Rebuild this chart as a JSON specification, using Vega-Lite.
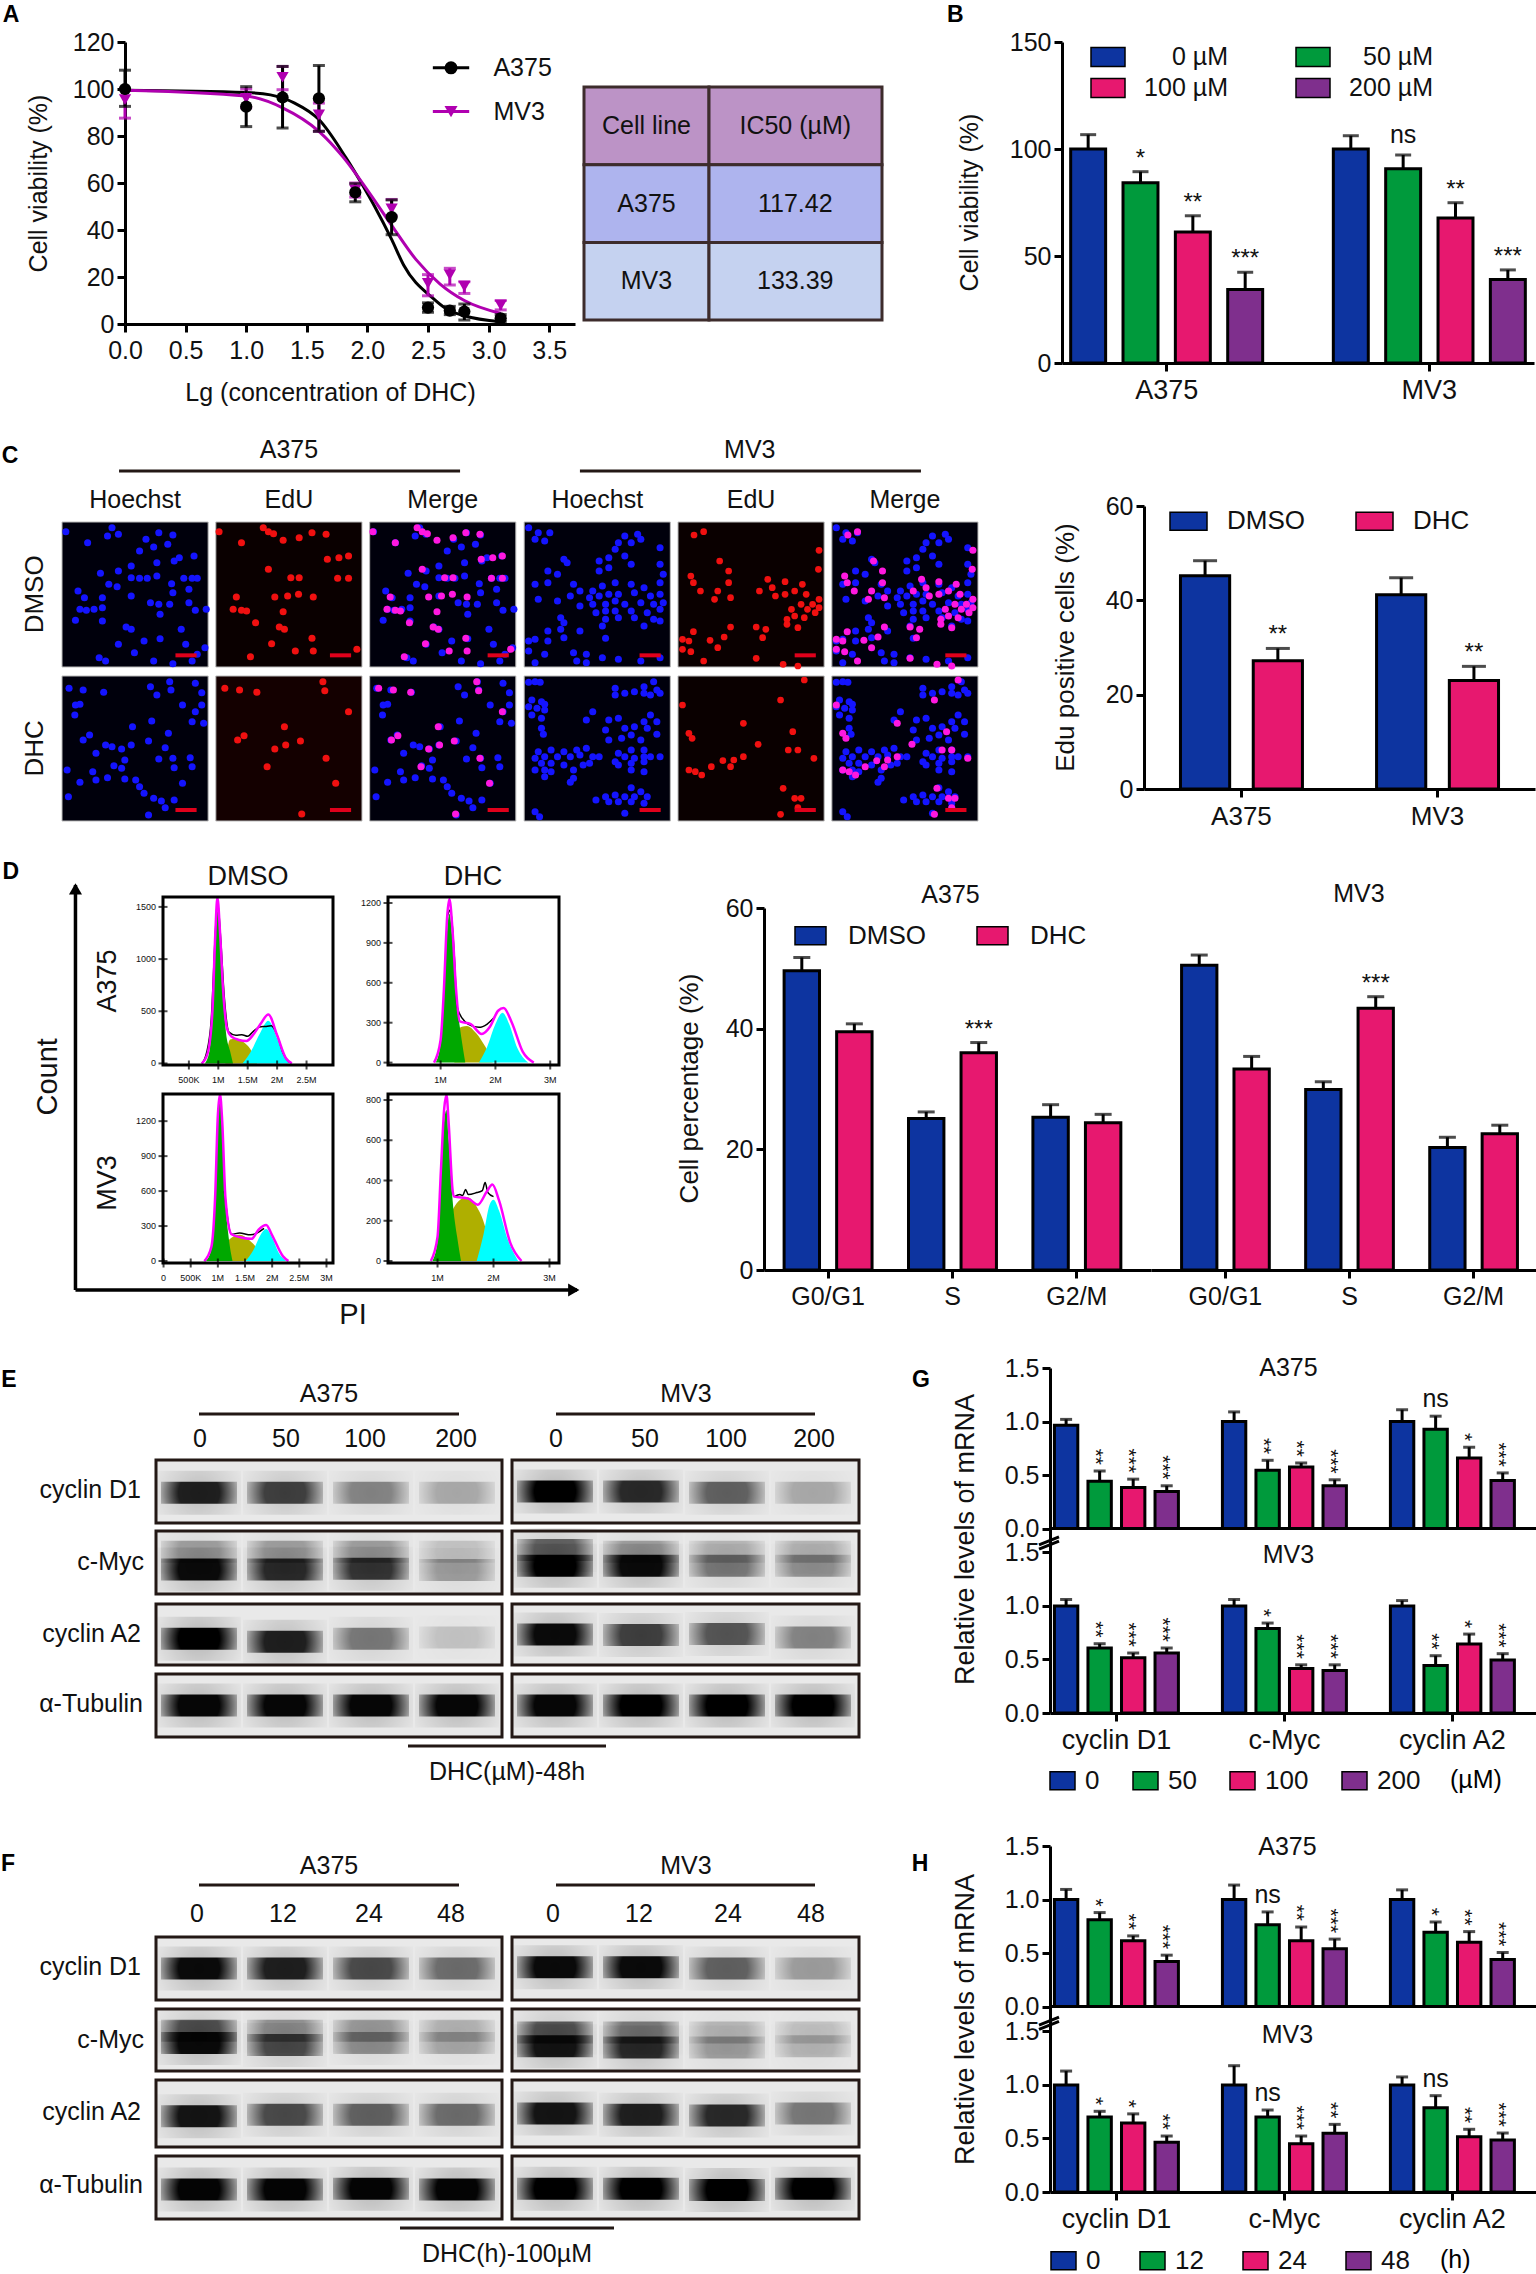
{
"$schema":"https://vega.github.io/schema/vega-lite/v6.json",
"padding":{"left":0,"top":3,"right":0,"bottom":0},"background":"white","spacing":0,
"data":{"values":[{}]},
"resolve":{"scale":{"color":"independent","xOffset":"independent"}},
"config":{"view":{"stroke":null},"font":"Liberation Sans",
"axis":{"domainColor":"#000","domainWidth":3,"tickColor":"#000","tickWidth":3,"tickSize":8,"labelColor":"#111","labelFontSize":25,"titleFontSize":25,"titleFontWeight":"normal","titleColor":"#111","grid":false,"labelPadding":3,"labelFlush":false,"labelOverlap":false,"titleAlign":"center","titleBaseline":"middle"},
"title":{"fontWeight":"normal","fontSize":25,"color":"#111"},
"text":{"color":"#111","fontSize":25},
"legend":{"titleFontWeight":"normal","labelFontSize":25,"labelColor":"#111","symbolOpacity":1,"orient":"none"}},
"datasets":{
"a_curve":[
{"series":"A375","x":0,"y":99.5},{"series":"A375","x":1,"y":98.5},{"series":"A375","x":1.2,"y":97.5},{"series":"A375","x":1.4,"y":94},{"series":"A375","x":1.6,"y":87},{"series":"A375","x":1.82,"y":71},{"series":"A375","x":1.95,"y":60},{"series":"A375","x":2.06,"y":50},{"series":"A375","x":2.2,"y":36},{"series":"A375","x":2.3,"y":25},{"series":"A375","x":2.54,"y":11},{"series":"A375","x":2.65,"y":6.5},{"series":"A375","x":2.8,"y":3.5},{"series":"A375","x":3.1,"y":1},
{"series":"MV3","x":0,"y":99.5},{"series":"MV3","x":1,"y":97},{"series":"MV3","x":1.3,"y":92},{"series":"MV3","x":1.6,"y":82},{"series":"MV3","x":1.8,"y":71},{"series":"MV3","x":2,"y":57},{"series":"MV3","x":2.2,"y":42},{"series":"MV3","x":2.4,"y":27.5},{"series":"MV3","x":2.6,"y":17},{"series":"MV3","x":2.8,"y":10},{"series":"MV3","x":3.1,"y":4.5}],
"a_pts":[
{"series":"MV3","x":0,"y":95.5,"lo":87.6,"hi":100},{"series":"MV3","x":1,"y":96,"lo":92,"hi":100},{"series":"MV3","x":1.3,"y":105,"lo":99.7,"hi":109.6},{"series":"MV3","x":1.6,"y":89,"lo":82,"hi":94},{"series":"MV3","x":1.9,"y":57,"lo":54,"hi":60},{"series":"MV3","x":2.2,"y":49,"lo":46,"hi":53},{"series":"MV3","x":2.5,"y":17.3,"lo":12,"hi":21},{"series":"MV3","x":2.68,"y":20.9,"lo":16.6,"hi":23.7},{"series":"MV3","x":2.8,"y":16,"lo":13,"hi":18},{"series":"MV3","x":3.1,"y":8,"lo":6,"hi":10},
{"series":"A375","x":0,"y":100,"lo":92.6,"hi":108},{"series":"A375","x":1,"y":92.5,"lo":84,"hi":101},{"series":"A375","x":1.3,"y":96.4,"lo":83.4,"hi":109.6},{"series":"A375","x":1.6,"y":96,"lo":82,"hi":110},{"series":"A375","x":1.9,"y":56,"lo":52,"hi":59.7},{"series":"A375","x":2.2,"y":45.5,"lo":38,"hi":52.8},{"series":"A375","x":2.5,"y":7,"lo":5,"hi":9},{"series":"A375","x":2.68,"y":5.7,"lo":4,"hi":7.5},{"series":"A375","x":2.8,"y":5.3,"lo":1.7,"hi":8.5},{"series":"A375","x":3.1,"y":2.4,"lo":1,"hi":4}],
"b":[
{"group":"A375","dose":"0 µM","value":100,"err":106.7,"sig":""},{"group":"A375","dose":"50 µM","value":84.2,"err":89.4,"sig":"*"},{"group":"A375","dose":"100 µM","value":61.2,"err":68.8,"sig":"**"},{"group":"A375","dose":"200 µM","value":34.3,"err":42.4,"sig":"***"},
{"group":"MV3","dose":"0 µM","value":100,"err":106.2,"sig":""},{"group":"MV3","dose":"50 µM","value":90.8,"err":97.2,"sig":"ns"},{"group":"MV3","dose":"100 µM","value":67.7,"err":74.9,"sig":"**"},{"group":"MV3","dose":"200 µM","value":39,"err":43.5,"sig":"***"}],
"c":[
{"group":"A375","dose":"DMSO","value":45.2,"err":48.4,"sig":""},{"group":"A375","dose":"DHC","value":27.2,"err":29.8,"sig":"**"},
{"group":"MV3","dose":"DMSO","value":41.2,"err":44.8,"sig":""},{"group":"MV3","dose":"DHC","value":23,"err":26,"sig":"**"}],
"d_a":[
{"group":"G0/G1","dose":"DMSO","value":49.6,"err":51.8,"sig":""},{"group":"G0/G1","dose":"DHC","value":39.5,"err":40.8,"sig":""},{"group":"S","dose":"DMSO","value":25.1,"err":26.2,"sig":""},{"group":"S","dose":"DHC","value":36,"err":37.7,"sig":"***"},{"group":"G2/M","dose":"DMSO","value":25.3,"err":27.4,"sig":""},{"group":"G2/M","dose":"DHC","value":24.4,"err":25.8,"sig":""}],
"d_m":[
{"group":"G0/G1","dose":"DMSO","value":50.5,"err":52.2,"sig":""},{"group":"G0/G1","dose":"DHC","value":33.3,"err":35.4,"sig":""},{"group":"S","dose":"DMSO","value":29.9,"err":31.2,"sig":""},{"group":"S","dose":"DHC","value":43.4,"err":45.3,"sig":"***"},{"group":"G2/M","dose":"DMSO","value":20.3,"err":22,"sig":""},{"group":"G2/M","dose":"DHC","value":22.6,"err":24,"sig":""}],
"g_a":[
{"group":"cyclin D1","dose":"0","value":0.965,"err":1.02,"sig":""},{"group":"cyclin D1","dose":"50","value":0.443,"err":0.538,"sig":"**"},{"group":"cyclin D1","dose":"100","value":0.384,"err":0.462,"sig":"***"},{"group":"cyclin D1","dose":"200","value":0.346,"err":0.4,"sig":"***"},
{"group":"c-Myc","dose":"0","value":1,"err":1.09,"sig":""},{"group":"c-Myc","dose":"50","value":0.544,"err":0.638,"sig":"**"},{"group":"c-Myc","dose":"100","value":0.575,"err":0.613,"sig":"**"},{"group":"c-Myc","dose":"200","value":0.4,"err":0.456,"sig":"***"},
{"group":"cyclin A2","dose":"0","value":1,"err":1.11,"sig":""},{"group":"cyclin A2","dose":"50","value":0.928,"err":1.05,"sig":"ns"},{"group":"cyclin A2","dose":"100","value":0.66,"err":0.76,"sig":"*"},{"group":"cyclin A2","dose":"200","value":0.45,"err":0.52,"sig":"***"}],
"g_m":[
{"group":"cyclin D1","dose":"0","value":1,"err":1.06,"sig":""},{"group":"cyclin D1","dose":"50","value":0.607,"err":0.647,"sig":"**"},{"group":"cyclin D1","dose":"100","value":0.517,"err":0.56,"sig":"***"},{"group":"cyclin D1","dose":"200","value":0.56,"err":0.607,"sig":"***"},
{"group":"c-Myc","dose":"0","value":1,"err":1.06,"sig":""},{"group":"c-Myc","dose":"50","value":0.79,"err":0.84,"sig":"*"},{"group":"c-Myc","dose":"100","value":0.415,"err":0.45,"sig":"***"},{"group":"c-Myc","dose":"200","value":0.396,"err":0.45,"sig":"***"},
{"group":"cyclin A2","dose":"0","value":1,"err":1.05,"sig":""},{"group":"cyclin A2","dose":"50","value":0.443,"err":0.535,"sig":"**"},{"group":"cyclin A2","dose":"100","value":0.644,"err":0.737,"sig":"*"},{"group":"cyclin A2","dose":"200","value":0.495,"err":0.554,"sig":"***"}],
"h_a":[
{"group":"cyclin D1","dose":"0","value":1,"err":1.094,"sig":""},{"group":"cyclin D1","dose":"12","value":0.81,"err":0.878,"sig":"*"},{"group":"cyclin D1","dose":"24","value":0.614,"err":0.66,"sig":"**"},{"group":"cyclin D1","dose":"48","value":0.42,"err":0.48,"sig":"***"},
{"group":"c-Myc","dose":"0","value":1,"err":1.135,"sig":""},{"group":"c-Myc","dose":"12","value":0.765,"err":0.884,"sig":"ns"},{"group":"c-Myc","dose":"24","value":0.614,"err":0.743,"sig":"**"},{"group":"c-Myc","dose":"48","value":0.54,"err":0.63,"sig":"***"},
{"group":"cyclin A2","dose":"0","value":1,"err":1.09,"sig":""},{"group":"cyclin A2","dose":"12","value":0.693,"err":0.79,"sig":"*"},{"group":"cyclin A2","dose":"24","value":0.6,"err":0.7,"sig":"**"},{"group":"cyclin A2","dose":"48","value":0.44,"err":0.505,"sig":"***"}],
"h_m":[
{"group":"cyclin D1","dose":"0","value":1,"err":1.13,"sig":""},{"group":"cyclin D1","dose":"12","value":0.7,"err":0.754,"sig":"*"},{"group":"cyclin D1","dose":"24","value":0.645,"err":0.73,"sig":"*"},{"group":"cyclin D1","dose":"48","value":0.464,"err":0.523,"sig":"**"},
{"group":"c-Myc","dose":"0","value":1,"err":1.18,"sig":""},{"group":"c-Myc","dose":"12","value":0.7,"err":0.766,"sig":"ns"},{"group":"c-Myc","dose":"24","value":0.452,"err":0.523,"sig":"***"},{"group":"c-Myc","dose":"48","value":0.548,"err":0.632,"sig":"**"},
{"group":"cyclin A2","dose":"0","value":1,"err":1.075,"sig":""},{"group":"cyclin A2","dose":"12","value":0.788,"err":0.9,"sig":"ns"},{"group":"cyclin A2","dose":"24","value":0.517,"err":0.586,"sig":"**"},{"group":"cyclin A2","dose":"48","value":0.486,"err":0.551,"sig":"***"}],
"h1":[{"x":6,"y":29},{"x":40,"y":62},{"x":78,"y":17},{"x":71,"y":42},{"x":88,"y":37},{"x":151,"y":32},{"x":173,"y":39},{"x":131,"y":52},{"x":143,"y":75},{"x":121,"y":87},{"x":165,"y":67},{"x":206,"y":102},{"x":183,"y":107},{"x":148,"y":122},{"x":175,"y":117},{"x":108,"y":132},{"x":60,"y":154},{"x":88,"y":147},{"x":108,"y":167},{"x":121,"y":169},{"x":133,"y":169},{"x":148,"y":162},{"x":171,"y":185},{"x":190,"y":169},{"x":203,"y":169},{"x":211,"y":169},{"x":86,"y":194},{"x":73,"y":187},{"x":25,"y":207},{"x":35,"y":227},{"x":63,"y":227},{"x":108,"y":222},{"x":138,"y":242},{"x":151,"y":247},{"x":173,"y":212},{"x":198,"y":202},{"x":168,"y":247},{"x":198,"y":242},{"x":208,"y":265},{"x":225,"y":262},{"x":28,"y":262},{"x":38,"y":265},{"x":50,"y":262},{"x":63,"y":257},{"x":63,"y":297},{"x":21,"y":295},{"x":100,"y":315},{"x":108,"y":322},{"x":153,"y":277},{"x":186,"y":322},{"x":153,"y":350},{"x":88,"y":367},{"x":58,"y":407},{"x":68,"y":417},{"x":128,"y":357},{"x":193,"y":367},{"x":223,"y":377},{"x":211,"y":397},{"x":113,"y":392},{"x":143,"y":417},{"x":203,"y":417},{"x":173,"y":425}],
"e1":[{"x":5,"y":29},{"x":40,"y":62},{"x":74,"y":17},{"x":82,"y":29},{"x":90,"y":35},{"x":105,"y":55},{"x":130,"y":47},{"x":150,"y":32},{"x":172,"y":37},{"x":174,"y":112},{"x":192,"y":107},{"x":207,"y":102},{"x":82,"y":142},{"x":117,"y":167},{"x":130,"y":167},{"x":190,"y":169},{"x":207,"y":169},{"x":32,"y":225},{"x":92,"y":225},{"x":112,"y":222},{"x":129,"y":217},{"x":152,"y":225},{"x":27,"y":262},{"x":40,"y":265},{"x":48,"y":267},{"x":105,"y":269},{"x":62,"y":302},{"x":99,"y":315},{"x":107,"y":322},{"x":87,"y":365},{"x":150,"y":349},{"x":124,"y":387},{"x":152,"y":387},{"x":54,"y":404},{"x":220,"y":382}],
"h2":[{"x":7,"y":17},{"x":22,"y":32},{"x":40,"y":32},{"x":17,"y":52},{"x":32,"y":57},{"x":157,"y":42},{"x":177,"y":37},{"x":147,"y":62},{"x":167,"y":62},{"x":182,"y":52},{"x":142,"y":82},{"x":157,"y":102},{"x":132,"y":107},{"x":212,"y":77},{"x":62,"y":112},{"x":37,"y":147},{"x":67,"y":122},{"x":117,"y":117},{"x":132,"y":137},{"x":117,"y":147},{"x":212,"y":127},{"x":217,"y":157},{"x":167,"y":127},{"x":52,"y":157},{"x":17,"y":187},{"x":37,"y":182},{"x":77,"y":187},{"x":87,"y":207},{"x":107,"y":207},{"x":122,"y":192},{"x":142,"y":182},{"x":167,"y":187},{"x":187,"y":197},{"x":212,"y":182},{"x":22,"y":232},{"x":52,"y":237},{"x":72,"y":222},{"x":102,"y":227},{"x":117,"y":222},{"x":132,"y":217},{"x":147,"y":217},{"x":172,"y":212},{"x":197,"y":222},{"x":212,"y":217},{"x":87,"y":252},{"x":107,"y":247},{"x":127,"y":247},{"x":142,"y":237},{"x":157,"y":247},{"x":182,"y":242},{"x":202,"y":247},{"x":217,"y":242},{"x":112,"y":272},{"x":127,"y":267},{"x":142,"y":267},{"x":167,"y":267},{"x":192,"y":272},{"x":212,"y":262},{"x":57,"y":287},{"x":127,"y":292},{"x":147,"y":287},{"x":172,"y":287},{"x":202,"y":292},{"x":62,"y":302},{"x":122,"y":312},{"x":187,"y":312},{"x":212,"y":297},{"x":37,"y":327},{"x":57,"y":322},{"x":87,"y":327},{"x":7,"y":357},{"x":17,"y":352},{"x":37,"y":357},{"x":62,"y":347},{"x":127,"y":349},{"x":7,"y":387},{"x":32,"y":397},{"x":77,"y":392},{"x":97,"y":397},{"x":122,"y":407},{"x":147,"y":412},{"x":17,"y":422},{"x":82,"y":417},{"x":182,"y":417},{"x":97,"y":422},{"x":212,"y":407}],
"e2":[{"x":25,"y":39},{"x":40,"y":29},{"x":220,"y":85},{"x":219,"y":142},{"x":65,"y":117},{"x":79,"y":147},{"x":20,"y":162},{"x":79,"y":182},{"x":24,"y":182},{"x":35,"y":207},{"x":62,"y":207},{"x":82,"y":227},{"x":57,"y":232},{"x":140,"y":172},{"x":147,"y":197},{"x":127,"y":207},{"x":167,"y":179},{"x":194,"y":187},{"x":152,"y":222},{"x":167,"y":217},{"x":182,"y":207},{"x":200,"y":217},{"x":220,"y":232},{"x":210,"y":247},{"x":192,"y":247},{"x":177,"y":262},{"x":202,"y":262},{"x":220,"y":257},{"x":182,"y":282},{"x":197,"y":287},{"x":214,"y":272},{"x":170,"y":292},{"x":187,"y":317},{"x":170,"y":307},{"x":24,"y":329},{"x":82,"y":315},{"x":122,"y":315},{"x":137,"y":322},{"x":7,"y":352},{"x":17,"y":357},{"x":72,"y":345},{"x":50,"y":355},{"x":62,"y":377},{"x":7,"y":382},{"x":20,"y":389},{"x":40,"y":417},{"x":122,"y":409},{"x":164,"y":427},{"x":187,"y":432},{"x":132,"y":347}],
"h3":[{"x":11,"y":37},{"x":33,"y":42},{"x":65,"y":49},{"x":21,"y":87},{"x":28,"y":85},{"x":20,"y":117},{"x":138,"y":32},{"x":168,"y":17},{"x":208,"y":22},{"x":148,"y":57},{"x":170,"y":42},{"x":218,"y":50},{"x":188,"y":87},{"x":208,"y":107},{"x":218,"y":87},{"x":203,"y":137},{"x":221,"y":142},{"x":140,"y":135},{"x":110,"y":152},{"x":166,"y":172},{"x":43,"y":177},{"x":33,"y":192},{"x":68,"y":207},{"x":78,"y":212},{"x":93,"y":219},{"x":53,"y":232},{"x":108,"y":207},{"x":135,"y":195},{"x":161,"y":215},{"x":151,"y":249},{"x":173,"y":247},{"x":200,"y":245},{"x":203,"y":272},{"x":175,"y":275},{"x":98,"y":252},{"x":81,"y":269},{"x":93,"y":277},{"x":48,"y":287},{"x":8,"y":282},{"x":53,"y":312},{"x":71,"y":305},{"x":98,"y":309},{"x":115,"y":312},{"x":188,"y":322},{"x":28,"y":319},{"x":10,"y":362},{"x":121,"y":332},{"x":128,"y":352},{"x":143,"y":367},{"x":155,"y":375},{"x":161,"y":395},{"x":175,"y":372},{"x":135,"y":417}],
"e3":[{"x":14,"y":37},{"x":37,"y":42},{"x":64,"y":49},{"x":167,"y":17},{"x":170,"y":44},{"x":207,"y":107},{"x":107,"y":152},{"x":44,"y":179},{"x":34,"y":192},{"x":132,"y":195},{"x":109,"y":207},{"x":92,"y":219},{"x":172,"y":247},{"x":80,"y":272},{"x":187,"y":322},{"x":134,"y":414}],
"h4":[{"x":7,"y":19},{"x":17,"y":17},{"x":25,"y":19},{"x":12,"y":72},{"x":27,"y":77},{"x":32,"y":85},{"x":7,"y":92},{"x":20,"y":97},{"x":32,"y":102},{"x":12,"y":117},{"x":27,"y":127},{"x":27,"y":157},{"x":30,"y":175},{"x":202,"y":17},{"x":187,"y":32},{"x":207,"y":42},{"x":142,"y":37},{"x":157,"y":52},{"x":172,"y":47},{"x":197,"y":57},{"x":142,"y":57},{"x":187,"y":52},{"x":212,"y":52},{"x":107,"y":107},{"x":97,"y":132},{"x":197,"y":117},{"x":132,"y":132},{"x":147,"y":127},{"x":187,"y":137},{"x":207,"y":137},{"x":127,"y":162},{"x":157,"y":157},{"x":172,"y":152},{"x":192,"y":157},{"x":167,"y":177},{"x":152,"y":187},{"x":182,"y":192},{"x":132,"y":192},{"x":207,"y":175},{"x":22,"y":227},{"x":42,"y":222},{"x":62,"y":227},{"x":82,"y":222},{"x":97,"y":217},{"x":17,"y":247},{"x":32,"y":242},{"x":52,"y":242},{"x":72,"y":242},{"x":87,"y":237},{"x":107,"y":242},{"x":117,"y":242},{"x":27,"y":262},{"x":42,"y":262},{"x":62,"y":267},{"x":92,"y":267},{"x":102,"y":262},{"x":17,"y":282},{"x":32,"y":282},{"x":42,"y":287},{"x":77,"y":282},{"x":32,"y":302},{"x":77,"y":307},{"x":72,"y":319},{"x":147,"y":232},{"x":167,"y":222},{"x":187,"y":222},{"x":142,"y":257},{"x":157,"y":242},{"x":172,"y":247},{"x":187,"y":242},{"x":197,"y":242},{"x":212,"y":242},{"x":147,"y":267},{"x":167,"y":262},{"x":187,"y":257},{"x":167,"y":282},{"x":187,"y":287},{"x":167,"y":335},{"x":182,"y":347},{"x":142,"y":357},{"x":127,"y":362},{"x":157,"y":362},{"x":172,"y":362},{"x":192,"y":362},{"x":112,"y":372},{"x":132,"y":377},{"x":147,"y":377},{"x":167,"y":377},{"x":187,"y":382},{"x":17,"y":407},{"x":24,"y":422},{"x":157,"y":412}],
"e4":[{"x":197,"y":12},{"x":160,"y":72},{"x":7,"y":87},{"x":102,"y":142},{"x":17,"y":172},{"x":22,"y":187},{"x":179,"y":167},{"x":125,"y":205},{"x":172,"y":222},{"x":187,"y":222},{"x":212,"y":247},{"x":102,"y":242},{"x":87,"y":252},{"x":70,"y":254},{"x":52,"y":272},{"x":17,"y":282},{"x":27,"y":287},{"x":37,"y":297},{"x":82,"y":272},{"x":164,"y":337},{"x":182,"y":367},{"x":192,"y":367},{"x":187,"y":395},{"x":160,"y":415}],
"tick_x":[{"p":"a1","v":0.5,"l":"500K"},{"p":"a1","v":1,"l":"1M"},{"p":"a1","v":1.5,"l":"1.5M"},{"p":"a1","v":2,"l":"2M"},{"p":"a1","v":2.5,"l":"2.5M"},{"p":"a2","v":1,"l":"1M"},{"p":"a2","v":2,"l":"2M"},{"p":"a2","v":3,"l":"3M"},{"p":"b1","v":0,"l":"0"},{"p":"b1","v":0.5,"l":"500K"},{"p":"b1","v":1,"l":"1M"},{"p":"b1","v":1.5,"l":"1.5M"},{"p":"b1","v":2,"l":"2M"},{"p":"b1","v":2.5,"l":"2.5M"},{"p":"b1","v":3,"l":"3M"},{"p":"b2","v":1,"l":"1M"},{"p":"b2","v":2,"l":"2M"},{"p":"b2","v":3,"l":"3M"}],
"tick_y":[{"p":"a1","v":0},{"p":"a1","v":500},{"p":"a1","v":1000},{"p":"a1","v":1500},{"p":"a2","v":0},{"p":"a2","v":300},{"p":"a2","v":600},{"p":"a2","v":900},{"p":"a2","v":1200},{"p":"b1","v":0},{"p":"b1","v":300},{"p":"b1","v":600},{"p":"b1","v":900},{"p":"b1","v":1200},{"p":"b2","v":0},{"p":"b2","v":200},{"p":"b2","v":400},{"p":"b2","v":600},{"p":"b2","v":800}],
"flow":[
{"p":"a1","s":"olive","x":1.12,"y":0},{"p":"a1","s":"olive","x":1.2,"y":230},{"p":"a1","s":"olive","x":1.31,"y":240},{"p":"a1","s":"olive","x":1.45,"y":195},{"p":"a1","s":"olive","x":1.56,"y":125},{"p":"a1","s":"olive","x":1.62,"y":60},{"p":"a1","s":"olive","x":1.66,"y":0},
{"p":"a1","s":"green","x":0.77,"y":0},{"p":"a1","s":"green","x":0.85,"y":120},{"p":"a1","s":"green","x":0.9,"y":500},{"p":"a1","s":"green","x":0.95,"y":1200},{"p":"a1","s":"green","x":0.985,"y":1500},{"p":"a1","s":"green","x":1.03,"y":1200},{"p":"a1","s":"green","x":1.08,"y":700},{"p":"a1","s":"green","x":1.13,"y":300},{"p":"a1","s":"green","x":1.2,"y":120},{"p":"a1","s":"green","x":1.25,"y":0},
{"p":"a1","s":"cyan","x":1.41,"y":0},{"p":"a1","s":"cyan","x":1.55,"y":110},{"p":"a1","s":"cyan","x":1.7,"y":280},{"p":"a1","s":"cyan","x":1.85,"y":410},{"p":"a1","s":"cyan","x":2,"y":240},{"p":"a1","s":"cyan","x":2.1,"y":90},{"p":"a1","s":"cyan","x":2.2,"y":0},
{"p":"a1","s":"black","x":0.72,"y":0},{"p":"a1","s":"black","x":0.8,"y":100},{"p":"a1","s":"black","x":0.88,"y":420},{"p":"a1","s":"black","x":0.95,"y":1250},{"p":"a1","s":"black","x":0.985,"y":1560},{"p":"a1","s":"black","x":1.04,"y":1200},{"p":"a1","s":"black","x":1.1,"y":650},{"p":"a1","s":"black","x":1.18,"y":300},{"p":"a1","s":"black","x":1.3,"y":270},{"p":"a1","s":"black","x":1.4,"y":275},{"p":"a1","s":"black","x":1.5,"y":260},{"p":"a1","s":"black","x":1.6,"y":310},{"p":"a1","s":"black","x":1.7,"y":350},{"p":"a1","s":"black","x":1.8,"y":355},{"p":"a1","s":"black","x":1.9,"y":360},{"p":"a1","s":"black","x":2,"y":270},{"p":"a1","s":"black","x":2.1,"y":100},{"p":"a1","s":"black","x":2.2,"y":10},
{"p":"a1","s":"magenta","x":0.72,"y":0},{"p":"a1","s":"magenta","x":0.82,"y":100},{"p":"a1","s":"magenta","x":0.9,"y":500},{"p":"a1","s":"magenta","x":0.95,"y":1250},{"p":"a1","s":"magenta","x":0.985,"y":1590},{"p":"a1","s":"magenta","x":1.03,"y":1250},{"p":"a1","s":"magenta","x":1.08,"y":720},{"p":"a1","s":"magenta","x":1.15,"y":330},{"p":"a1","s":"magenta","x":1.22,"y":260},{"p":"a1","s":"magenta","x":1.35,"y":225},{"p":"a1","s":"magenta","x":1.48,"y":215},{"p":"a1","s":"magenta","x":1.6,"y":280},{"p":"a1","s":"magenta","x":1.72,"y":380},{"p":"a1","s":"magenta","x":1.85,"y":470},{"p":"a1","s":"magenta","x":2,"y":270},{"p":"a1","s":"magenta","x":2.15,"y":50},{"p":"a1","s":"magenta","x":2.25,"y":0},
{"p":"a2","s":"olive","x":1.25,"y":0},{"p":"a2","s":"olive","x":1.3,"y":250},{"p":"a2","s":"olive","x":1.48,"y":275},{"p":"a2","s":"olive","x":1.65,"y":220},{"p":"a2","s":"olive","x":1.8,"y":130},{"p":"a2","s":"olive","x":1.87,"y":80},{"p":"a2","s":"olive","x":1.95,"y":0},
{"p":"a2","s":"green","x":0.91,"y":0},{"p":"a2","s":"green","x":1,"y":150},{"p":"a2","s":"green","x":1.06,"y":500},{"p":"a2","s":"green","x":1.12,"y":1000},{"p":"a2","s":"green","x":1.16,"y":1120},{"p":"a2","s":"green","x":1.22,"y":900},{"p":"a2","s":"green","x":1.28,"y":500},{"p":"a2","s":"green","x":1.35,"y":270},{"p":"a2","s":"green","x":1.45,"y":0},
{"p":"a2","s":"cyan","x":1.7,"y":0},{"p":"a2","s":"cyan","x":1.85,"y":120},{"p":"a2","s":"cyan","x":2,"y":290},{"p":"a2","s":"cyan","x":2.13,"y":375},{"p":"a2","s":"cyan","x":2.25,"y":290},{"p":"a2","s":"cyan","x":2.4,"y":110},{"p":"a2","s":"cyan","x":2.6,"y":0},
{"p":"a2","s":"black","x":1.12,"y":1100},{"p":"a2","s":"black","x":1.18,"y":1150},{"p":"a2","s":"black","x":1.25,"y":800},{"p":"a2","s":"black","x":1.3,"y":420},{"p":"a2","s":"black","x":1.4,"y":330},{"p":"a2","s":"black","x":1.5,"y":290},{"p":"a2","s":"black","x":1.7,"y":265},{"p":"a2","s":"black","x":1.85,"y":290},{"p":"a2","s":"black","x":2,"y":350},
{"p":"a2","s":"magenta","x":0.88,"y":0},{"p":"a2","s":"magenta","x":1,"y":170},{"p":"a2","s":"magenta","x":1.06,"y":550},{"p":"a2","s":"magenta","x":1.12,"y":1100},{"p":"a2","s":"magenta","x":1.16,"y":1230},{"p":"a2","s":"magenta","x":1.22,"y":980},{"p":"a2","s":"magenta","x":1.28,"y":560},{"p":"a2","s":"magenta","x":1.35,"y":310},{"p":"a2","s":"magenta","x":1.55,"y":290},{"p":"a2","s":"magenta","x":1.75,"y":215},{"p":"a2","s":"magenta","x":1.9,"y":270},{"p":"a2","s":"magenta","x":2.05,"y":390},{"p":"a2","s":"magenta","x":2.15,"y":410},{"p":"a2","s":"magenta","x":2.3,"y":300},{"p":"a2","s":"magenta","x":2.5,"y":80},{"p":"a2","s":"magenta","x":2.7,"y":0},
{"p":"b1","s":"olive","x":1.15,"y":0},{"p":"b1","s":"olive","x":1.2,"y":180},{"p":"b1","s":"olive","x":1.4,"y":225},{"p":"b1","s":"olive","x":1.6,"y":170},{"p":"b1","s":"olive","x":1.71,"y":110},{"p":"b1","s":"olive","x":1.8,"y":0},
{"p":"b1","s":"green","x":0.78,"y":0},{"p":"b1","s":"green","x":0.88,"y":100},{"p":"b1","s":"green","x":0.95,"y":500},{"p":"b1","s":"green","x":1,"y":1200},{"p":"b1","s":"green","x":1.04,"y":1385},{"p":"b1","s":"green","x":1.08,"y":1150},{"p":"b1","s":"green","x":1.14,"y":500},{"p":"b1","s":"green","x":1.2,"y":200},{"p":"b1","s":"green","x":1.27,"y":0},
{"p":"b1","s":"cyan","x":1.51,"y":0},{"p":"b1","s":"cyan","x":1.65,"y":90},{"p":"b1","s":"cyan","x":1.78,"y":220},{"p":"b1","s":"cyan","x":1.89,"y":275},{"p":"b1","s":"cyan","x":2,"y":200},{"p":"b1","s":"cyan","x":2.12,"y":70},{"p":"b1","s":"cyan","x":2.26,"y":0},
{"p":"b1","s":"black","x":1.12,"y":600},{"p":"b1","s":"black","x":1.25,"y":230},{"p":"b1","s":"black","x":1.4,"y":240},{"p":"b1","s":"black","x":1.6,"y":225},{"p":"b1","s":"black","x":1.72,"y":240},{"p":"b1","s":"black","x":1.85,"y":280},
{"p":"b1","s":"magenta","x":0.75,"y":0},{"p":"b1","s":"magenta","x":0.88,"y":120},{"p":"b1","s":"magenta","x":0.95,"y":550},{"p":"b1","s":"magenta","x":1,"y":1250},{"p":"b1","s":"magenta","x":1.04,"y":1430},{"p":"b1","s":"magenta","x":1.08,"y":1200},{"p":"b1","s":"magenta","x":1.14,"y":540},{"p":"b1","s":"magenta","x":1.25,"y":230},{"p":"b1","s":"magenta","x":1.45,"y":200},{"p":"b1","s":"magenta","x":1.62,"y":190},{"p":"b1","s":"magenta","x":1.75,"y":270},{"p":"b1","s":"magenta","x":1.89,"y":310},{"p":"b1","s":"magenta","x":2,"y":220},{"p":"b1","s":"magenta","x":2.2,"y":40},{"p":"b1","s":"magenta","x":2.3,"y":0},
{"p":"b2","s":"olive","x":1.22,"y":0},{"p":"b2","s":"olive","x":1.28,"y":260},{"p":"b2","s":"olive","x":1.52,"y":318},{"p":"b2","s":"olive","x":1.7,"y":270},{"p":"b2","s":"olive","x":1.84,"y":180},{"p":"b2","s":"olive","x":1.9,"y":110},{"p":"b2","s":"olive","x":1.95,"y":0},
{"p":"b2","s":"green","x":0.91,"y":0},{"p":"b2","s":"green","x":1,"y":100},{"p":"b2","s":"green","x":1.06,"y":400},{"p":"b2","s":"green","x":1.12,"y":700},{"p":"b2","s":"green","x":1.16,"y":750},{"p":"b2","s":"green","x":1.2,"y":600},{"p":"b2","s":"green","x":1.27,"y":300},{"p":"b2","s":"green","x":1.35,"y":120},{"p":"b2","s":"green","x":1.42,"y":0},
{"p":"b2","s":"cyan","x":1.7,"y":0},{"p":"b2","s":"cyan","x":1.82,"y":130},{"p":"b2","s":"cyan","x":1.93,"y":280},{"p":"b2","s":"cyan","x":2,"y":305},{"p":"b2","s":"cyan","x":2.1,"y":250},{"p":"b2","s":"cyan","x":2.25,"y":110},{"p":"b2","s":"cyan","x":2.44,"y":0},
{"p":"b2","s":"black","x":1.3,"y":320},{"p":"b2","s":"black","x":1.4,"y":330},{"p":"b2","s":"black","x":1.45,"y":325},{"p":"b2","s":"black","x":1.5,"y":355},{"p":"b2","s":"black","x":1.55,"y":330},{"p":"b2","s":"black","x":1.7,"y":340},{"p":"b2","s":"black","x":1.8,"y":350},{"p":"b2","s":"black","x":1.85,"y":390},{"p":"b2","s":"black","x":1.9,"y":340},{"p":"b2","s":"black","x":2,"y":320},
{"p":"b2","s":"magenta","x":0.88,"y":0},{"p":"b2","s":"magenta","x":1,"y":120},{"p":"b2","s":"magenta","x":1.06,"y":450},{"p":"b2","s":"magenta","x":1.12,"y":760},{"p":"b2","s":"magenta","x":1.16,"y":825},{"p":"b2","s":"magenta","x":1.2,"y":680},{"p":"b2","s":"magenta","x":1.27,"y":350},{"p":"b2","s":"magenta","x":1.3,"y":320},{"p":"b2","s":"magenta","x":1.55,"y":310},{"p":"b2","s":"magenta","x":1.72,"y":280},{"p":"b2","s":"magenta","x":1.88,"y":345},{"p":"b2","s":"magenta","x":1.98,"y":380},{"p":"b2","s":"magenta","x":2.1,"y":300},{"p":"b2","s":"magenta","x":2.3,"y":90},{"p":"b2","s":"magenta","x":2.5,"y":0}],
"blot_e":[
{"line":"A375","protein":"cyclin D1","lane":"0","pos":0.52,"dark":0.85},{"line":"A375","protein":"cyclin D1","lane":"50","pos":0.52,"dark":0.7},{"line":"A375","protein":"cyclin D1","lane":"100","pos":0.52,"dark":0.4},{"line":"A375","protein":"cyclin D1","lane":"200","pos":0.52,"dark":0.25},
{"line":"MV3","protein":"cyclin D1","lane":"0","pos":0.5,"dark":1},{"line":"MV3","protein":"cyclin D1","lane":"50","pos":0.5,"dark":0.8},{"line":"MV3","protein":"cyclin D1","lane":"100","pos":0.52,"dark":0.55},{"line":"MV3","protein":"cyclin D1","lane":"200","pos":0.52,"dark":0.25},
{"line":"A375","protein":"c-Myc","lane":"0","pos":0.33,"dark":0.3},{"line":"A375","protein":"c-Myc","lane":"50","pos":0.33,"dark":0.3},{"line":"A375","protein":"c-Myc","lane":"100","pos":0.33,"dark":0.3},{"line":"A375","protein":"c-Myc","lane":"200","pos":0.33,"dark":0.15},
{"line":"A375","protein":"c-Myc","lane":"0","pos":0.61,"dark":0.95},{"line":"A375","protein":"c-Myc","lane":"50","pos":0.61,"dark":0.8},{"line":"A375","protein":"c-Myc","lane":"100","pos":0.6,"dark":0.75},{"line":"A375","protein":"c-Myc","lane":"200","pos":0.62,"dark":0.3},
{"line":"MV3","protein":"c-Myc","lane":"0","pos":0.3,"dark":0.55},{"line":"MV3","protein":"c-Myc","lane":"50","pos":0.33,"dark":0.3},{"line":"MV3","protein":"c-Myc","lane":"100","pos":0.33,"dark":0.2},{"line":"MV3","protein":"c-Myc","lane":"200","pos":0.33,"dark":0.2},
{"line":"MV3","protein":"c-Myc","lane":"0","pos":0.55,"dark":1},{"line":"MV3","protein":"c-Myc","lane":"50","pos":0.55,"dark":0.95},{"line":"MV3","protein":"c-Myc","lane":"100","pos":0.55,"dark":0.45},{"line":"MV3","protein":"c-Myc","lane":"200","pos":0.55,"dark":0.35},
{"line":"A375","protein":"cyclin A2","lane":"0","pos":0.57,"dark":1},{"line":"A375","protein":"cyclin A2","lane":"50","pos":0.62,"dark":0.85},{"line":"A375","protein":"cyclin A2","lane":"100","pos":0.57,"dark":0.45},{"line":"A375","protein":"cyclin A2","lane":"200","pos":0.55,"dark":0.15},
{"line":"MV3","protein":"cyclin A2","lane":"0","pos":0.5,"dark":0.95},{"line":"MV3","protein":"cyclin A2","lane":"50","pos":0.51,"dark":0.7},{"line":"MV3","protein":"cyclin A2","lane":"100","pos":0.49,"dark":0.6},{"line":"MV3","protein":"cyclin A2","lane":"200","pos":0.55,"dark":0.4},
{"line":"A375","protein":"α-Tubulin","lane":"0","pos":0.5,"dark":0.97},{"line":"A375","protein":"α-Tubulin","lane":"50","pos":0.5,"dark":0.97},{"line":"A375","protein":"α-Tubulin","lane":"100","pos":0.5,"dark":0.97},{"line":"A375","protein":"α-Tubulin","lane":"200","pos":0.5,"dark":0.97},
{"line":"MV3","protein":"α-Tubulin","lane":"0","pos":0.5,"dark":0.97},{"line":"MV3","protein":"α-Tubulin","lane":"50","pos":0.5,"dark":1},{"line":"MV3","protein":"α-Tubulin","lane":"100","pos":0.5,"dark":1},{"line":"MV3","protein":"α-Tubulin","lane":"200","pos":0.5,"dark":1}],
"blot_f":[
{"line":"A375","protein":"cyclin D1","lane":"0","pos":0.5,"dark":0.95},{"line":"A375","protein":"cyclin D1","lane":"12","pos":0.5,"dark":0.85},{"line":"A375","protein":"cyclin D1","lane":"24","pos":0.5,"dark":0.65},{"line":"A375","protein":"cyclin D1","lane":"48","pos":0.5,"dark":0.5},
{"line":"MV3","protein":"cyclin D1","lane":"0","pos":0.48,"dark":0.95},{"line":"MV3","protein":"cyclin D1","lane":"12","pos":0.48,"dark":0.95},{"line":"MV3","protein":"cyclin D1","lane":"24","pos":0.5,"dark":0.55},{"line":"MV3","protein":"cyclin D1","lane":"48","pos":0.5,"dark":0.3},
{"line":"A375","protein":"c-Myc","lane":"0","pos":0.35,"dark":0.6},{"line":"A375","protein":"c-Myc","lane":"12","pos":0.35,"dark":0.35},{"line":"A375","protein":"c-Myc","lane":"24","pos":0.35,"dark":0.3},{"line":"A375","protein":"c-Myc","lane":"48","pos":0.35,"dark":0.2},
{"line":"A375","protein":"c-Myc","lane":"0","pos":0.55,"dark":0.95},{"line":"A375","protein":"c-Myc","lane":"12","pos":0.58,"dark":0.65},{"line":"A375","protein":"c-Myc","lane":"24","pos":0.55,"dark":0.35},{"line":"A375","protein":"c-Myc","lane":"48","pos":0.55,"dark":0.25},
{"line":"MV3","protein":"c-Myc","lane":"0","pos":0.38,"dark":0.6},{"line":"MV3","protein":"c-Myc","lane":"12","pos":0.38,"dark":0.45},{"line":"MV3","protein":"c-Myc","lane":"24","pos":0.38,"dark":0.2},{"line":"MV3","protein":"c-Myc","lane":"48","pos":0.38,"dark":0.15},
{"line":"MV3","protein":"c-Myc","lane":"0","pos":0.6,"dark":0.9},{"line":"MV3","protein":"c-Myc","lane":"12","pos":0.62,"dark":0.8},{"line":"MV3","protein":"c-Myc","lane":"24","pos":0.62,"dark":0.3},{"line":"MV3","protein":"c-Myc","lane":"48","pos":0.6,"dark":0.2},
{"line":"A375","protein":"cyclin A2","lane":"0","pos":0.54,"dark":0.9},{"line":"A375","protein":"cyclin A2","lane":"12","pos":0.52,"dark":0.65},{"line":"A375","protein":"cyclin A2","lane":"24","pos":0.52,"dark":0.55},{"line":"A375","protein":"cyclin A2","lane":"48","pos":0.52,"dark":0.5},
{"line":"MV3","protein":"cyclin A2","lane":"0","pos":0.5,"dark":0.9},{"line":"MV3","protein":"cyclin A2","lane":"12","pos":0.52,"dark":0.85},{"line":"MV3","protein":"cyclin A2","lane":"24","pos":0.53,"dark":0.8},{"line":"MV3","protein":"cyclin A2","lane":"48","pos":0.5,"dark":0.45},
{"line":"A375","protein":"α-Tubulin","lane":"0","pos":0.53,"dark":0.98},{"line":"A375","protein":"α-Tubulin","lane":"12","pos":0.53,"dark":0.98},{"line":"A375","protein":"α-Tubulin","lane":"24","pos":0.52,"dark":0.98},{"line":"A375","protein":"α-Tubulin","lane":"48","pos":0.53,"dark":0.98},
{"line":"MV3","protein":"α-Tubulin","lane":"0","pos":0.52,"dark":1},{"line":"MV3","protein":"α-Tubulin","lane":"12","pos":0.52,"dark":1},{"line":"MV3","protein":"α-Tubulin","lane":"24","pos":0.54,"dark":1},{"line":"MV3","protein":"α-Tubulin","lane":"48","pos":0.52,"dark":1}]
},
"vconcat":[
{"spacing":0,"bounds":"flush","resolve":{"scale":{"color":"independent","xOffset":"independent"}},"hconcat":[
{"width":125,"height":1,"mark":{"type":"text","text":""}},
{"width":450,"height":282,"layer":[
{"data":{"name":"a_curve"},"mark":{"type":"line","interpolate":"monotone","strokeWidth":3},"encoding":{
"x":{"field":"x","type":"quantitative","scale":{"domain":[0,3.713],"nice":false},"axis":{"values":[0,0.5,1,1.5,2,2.5,3,3.5],"format":".1f","labelPadding":6,"title":"Lg (concentration of DHC)","titleX":205,"titleY":68}},
"y":{"field":"y","type":"quantitative","scale":{"domain":[0,120],"nice":false},"axis":{"values":[0,20,40,60,80,100,120],"title":"Cell viability (%)","titleX":-87,"titleY":141}},
"color":{"field":"series","type":"nominal","scale":{"domain":["A375","MV3"],"range":["#000000","#B000B0"]},"legend":null}}},
{"data":{"name":"a_pts"},"mark":{"type":"rule","strokeWidth":3},"encoding":{"x":{"field":"x","type":"quantitative"},"y":{"field":"lo","type":"quantitative"},"y2":{"field":"hi"},"color":{"field":"series","type":"nominal","legend":null}}},
{"data":{"name":"a_pts"},"mark":{"type":"tick","orient":"horizontal","size":12,"thickness":3},"encoding":{"x":{"field":"x","type":"quantitative"},"y":{"field":"lo","type":"quantitative"},"color":{"field":"series","type":"nominal","legend":null}}},
{"data":{"name":"a_pts"},"mark":{"type":"tick","orient":"horizontal","size":12,"thickness":3},"encoding":{"x":{"field":"x","type":"quantitative"},"y":{"field":"hi","type":"quantitative"},"color":{"field":"series","type":"nominal","legend":null}}},
{"data":{"name":"a_pts"},"mark":{"type":"point","filled":true,"size":150,"opacity":1},"encoding":{"x":{"field":"x","type":"quantitative"},"y":{"field":"y","type":"quantitative"},"color":{"field":"series","type":"nominal","legend":null},"shape":{"field":"series","type":"nominal","scale":{"domain":["A375","MV3"],"range":["circle","triangle-down"]},"legend":null}}},
{"data":{"values":[{"series":"A375","x":2.54,"x2":2.84,"y":109},{"series":"MV3","x":2.54,"x2":2.84,"y":90.4}]},"mark":{"type":"rule","strokeWidth":3},"encoding":{"x":{"field":"x","type":"quantitative"},"x2":{"field":"x2"},"y":{"field":"y","type":"quantitative"},"color":{"field":"series","type":"nominal","legend":null}}},
{"data":{"values":[{"series":"A375","x":2.69,"y":109},{"series":"MV3","x":2.69,"y":90.4}]},"mark":{"type":"point","filled":true,"size":170,"opacity":1},"encoding":{"x":{"field":"x","type":"quantitative"},"y":{"field":"y","type":"quantitative"},"color":{"field":"series","type":"nominal","legend":null},"shape":{"field":"series","type":"nominal","legend":null}}},
{"data":{"values":[{"series":"A375","x":3.04,"y":109},{"series":"MV3","x":3.04,"y":90.4}]},"mark":{"type":"text","align":"left","fontSize":25,"color":"#111"},"encoding":{"x":{"field":"x","type":"quantitative"},"y":{"field":"y","type":"quantitative"},"text":{"field":"series"}}},
{"data":{"values":[{"t":"A","x":-0.94,"y":131.5},{"t":"B","x":6.85,"y":131.5}]},"mark":{"type":"text","fontWeight":"bold","fontSize":23,"color":"#000"},"encoding":{"x":{"field":"x","type":"quantitative"},"y":{"field":"y","type":"quantitative"},"text":{"field":"t"}}}
]},
{"width":9,"height":1,"mark":{"type":"text","text":""}},
{"width":298,"height":282,"data":{"values":[
{"row":"head","x":0,"x2":1,"m":0.5,"r":0,"r2":1,"rm":0.5,"label":"Cell line"},{"row":"head","x":1,"x2":2.384,"m":1.69,"r":0,"r2":1,"rm":0.5,"label":"IC50 (µM)"},
{"row":"A375","x":0,"x2":1,"m":0.5,"r":1,"r2":2,"rm":1.5,"label":"A375"},{"row":"A375","x":1,"x2":2.384,"m":1.69,"r":1,"r2":2,"rm":1.5,"label":"117.42"},
{"row":"MV3","x":0,"x2":1,"m":0.5,"r":2,"r2":3,"rm":2.5,"label":"MV3"},{"row":"MV3","x":1,"x2":2.384,"m":1.69,"r":2,"r2":3,"rm":2.5,"label":"133.39"}]},
"layer":[
{"mark":{"type":"rect","stroke":"#3d2c2c","strokeWidth":3},"encoding":{"x":{"field":"x","type":"quantitative","scale":{"domain":[0,2.384],"nice":false},"axis":null},"x2":{"field":"x2"},"y":{"field":"r","type":"quantitative","scale":{"domain":[-0.58,3.05],"reverse":true,"nice":false},"axis":null},"y2":{"field":"r2"},"color":{"field":"row","type":"nominal","scale":{"domain":["head","A375","MV3"],"range":["#BC93C6","#AEB4EE","#C5D2F0"]},"legend":null}}},
{"mark":{"type":"text","fontSize":25,"color":"#111"},"encoding":{"x":{"field":"m","type":"quantitative"},"y":{"field":"rm","type":"quantitative"},"text":{"field":"label"}}}
]},
{"width":180,"height":1,"mark":{"type":"text","text":""}},
{"width":472,"height":321,"data":{"name":"b"},
"encoding":{"x":{"field":"group","type":"nominal","sort":null,"scale":{"paddingInner":0.269,"paddingOuter":0.033},"axis":{"title":null,"labelAngle":0,"labelFontSize":27,"labelPadding":6}},
"xOffset":{"field":"dose","type":"nominal","sort":["0 µM","50 µM","100 µM","200 µM"],"scale":{"paddingInner":0.332}},
"y":{"field":"value","type":"quantitative","stack":null,"scale":{"domain":[0,150]},"axis":{"values":[0,50,100,150],"title":"Cell viability (%)","titleX":-93,"titleY":160}}},
"layer":[
{"mark":{"type":"rule","strokeWidth":3,"color":"#000"},"encoding":{"y2":{"field":"err"}}},
{"transform":[{"calculate":"datum.err","as":"value"}],"mark":{"type":"tick","orient":"horizontal","size":16,"thickness":3,"color":"#000"}},
{"mark":{"type":"bar","stroke":"#000","strokeWidth":3},"encoding":{"color":{"field":"dose","type":"nominal","scale":{"domain":["0 µM","100 µM","50 µM","200 µM"],"range":["#0D34A0","#E7186F","#009A3C","#7F2F8D"]},"legend":{"title":null,"legendX":28,"legendY":-3,"columns":2,"symbolType":"M-1,-0.56H1V0.56H-1Z","symbolSize":1156,"labelAlign":"right","labelOffset":102,"columnPadding":65,"rowPadding":0,"encode":{"symbols":{"update":{"stroke":{"value":"#231815"},"strokeWidth":{"value":3}}}}}}}},
{"transform":[{"calculate":"datum.err","as":"value"},{"filter":"datum.sig!='ns'"}],"mark":{"type":"text","fontSize":24,"yOffset":-13},"encoding":{"text":{"field":"sig"}}},
{"transform":[{"calculate":"datum.err","as":"value"},{"filter":"datum.sig=='ns'"}],"mark":{"type":"text","fontSize":25,"yOffset":-20},"encoding":{"text":{"field":"sig"}}}
]}
]},
{"width":1,"height":33,"mark":{"type":"text","text":""}},
{"spacing":0,"bounds":"flush","resolve":{"scale":{"color":"independent","xOffset":"independent"}},"hconcat":[
{"width":62,"height":1,"mark":{"type":"text","text":""}},
{"width":916,"height":315,
"encoding":{"x":{"field":"X","type":"quantitative","scale":{"domain":[0,1429]},"axis":null},"y":{"field":"Y","type":"quantitative","scale":{"domain":[-48,897],"reverse":true},"axis":null}},
"layer":[
{"data":{"values":[{"X":0,"X2":228,"Y":0,"Y2":435,"bg":"b"},{"X":240,"X2":468,"Y":0,"Y2":435,"bg":"r"},{"X":480,"X2":708,"Y":0,"Y2":435,"bg":"b"},{"X":721,"X2":949,"Y":0,"Y2":435,"bg":"b"},{"X":961,"X2":1189,"Y":0,"Y2":435,"bg":"r"},{"X":1201,"X2":1429,"Y":0,"Y2":435,"bg":"b"},{"X":0,"X2":228,"Y":462,"Y2":897,"bg":"b"},{"X":240,"X2":468,"Y":462,"Y2":897,"bg":"r2"},{"X":480,"X2":708,"Y":462,"Y2":897,"bg":"b"},{"X":721,"X2":949,"Y":462,"Y2":897,"bg":"b"},{"X":961,"X2":1189,"Y":462,"Y2":897,"bg":"r"},{"X":1201,"X2":1429,"Y":462,"Y2":897,"bg":"b"}]},"mark":{"type":"rect","stroke":"#bbbbbb","strokeWidth":1},"encoding":{"x2":{"field":"X2"},"y2":{"field":"Y2"},"color":{"field":"bg","type":"nominal","scale":{"domain":["b","r","r2"],"range":["#00000c","#0a0000","#140000"]},"legend":null}}},
{"data":{"name":"h1"},"transform":[{"calculate":"datum.x","as":"X"},{"calculate":"datum.y","as":"Y"}],"mark":{"type":"circle","size":50,"color":"#1414ff","opacity":1}},
{"data":{"name":"e1"},"transform":[{"calculate":"datum.x+240","as":"X"},{"calculate":"datum.y","as":"Y"}],"mark":{"type":"circle","size":50,"color":"#f01010","opacity":1}},
{"data":{"name":"h1"},"transform":[{"calculate":"datum.x+480","as":"X"},{"calculate":"datum.y","as":"Y"}],"mark":{"type":"circle","size":50,"color":"#1414ff","opacity":1}},
{"data":{"name":"e1"},"transform":[{"calculate":"datum.x+480","as":"X"},{"calculate":"datum.y","as":"Y"}],"mark":{"type":"circle","size":50,"color":"#ff18e0","opacity":1}},
{"data":{"name":"h2"},"transform":[{"calculate":"datum.x+721","as":"X"},{"calculate":"datum.y","as":"Y"}],"mark":{"type":"circle","size":50,"color":"#1414ff","opacity":1}},
{"data":{"name":"e2"},"transform":[{"calculate":"datum.x+961","as":"X"},{"calculate":"datum.y","as":"Y"}],"mark":{"type":"circle","size":45,"color":"#f01010","opacity":1}},
{"data":{"name":"h2"},"transform":[{"calculate":"datum.x+1201","as":"X"},{"calculate":"datum.y","as":"Y"}],"mark":{"type":"circle","size":50,"color":"#1414ff","opacity":1}},
{"data":{"name":"e2"},"transform":[{"calculate":"datum.x+1201","as":"X"},{"calculate":"datum.y","as":"Y"}],"mark":{"type":"circle","size":50,"color":"#ff18e0","opacity":1}},
{"data":{"name":"h3"},"transform":[{"calculate":"datum.x","as":"X"},{"calculate":"datum.y+462","as":"Y"}],"mark":{"type":"circle","size":50,"color":"#1414ff","opacity":1}},
{"data":{"name":"e3"},"transform":[{"calculate":"datum.x+240","as":"X"},{"calculate":"datum.y+462","as":"Y"}],"mark":{"type":"circle","size":50,"color":"#f01010","opacity":1}},
{"data":{"name":"h3"},"transform":[{"calculate":"datum.x+480","as":"X"},{"calculate":"datum.y+462","as":"Y"}],"mark":{"type":"circle","size":50,"color":"#1414ff","opacity":1}},
{"data":{"name":"e3"},"transform":[{"calculate":"datum.x+480","as":"X"},{"calculate":"datum.y+462","as":"Y"}],"mark":{"type":"circle","size":50,"color":"#ff18e0","opacity":1}},
{"data":{"name":"h4"},"transform":[{"calculate":"datum.x+721","as":"X"},{"calculate":"datum.y+462","as":"Y"}],"mark":{"type":"circle","size":50,"color":"#1414ff","opacity":1}},
{"data":{"name":"e4"},"transform":[{"calculate":"datum.x+961","as":"X"},{"calculate":"datum.y+462","as":"Y"}],"mark":{"type":"circle","size":45,"color":"#f01010","opacity":1}},
{"data":{"name":"h4"},"transform":[{"calculate":"datum.x+1201","as":"X"},{"calculate":"datum.y+462","as":"Y"}],"mark":{"type":"circle","size":50,"color":"#1414ff","opacity":1}},
{"data":{"name":"e4"},"transform":[{"calculate":"datum.x+1201","as":"X"},{"calculate":"datum.y+462","as":"Y"}],"mark":{"type":"circle","size":50,"color":"#ff18e0","opacity":1}},
{"data":{"values":[{"X":177,"Y":400},{"X":418,"Y":400},{"X":664,"Y":400},{"X":901,"Y":400},{"X":1143,"Y":400},{"X":1378,"Y":400},{"X":177,"Y":864},{"X":418,"Y":864},{"X":664,"Y":864},{"X":901,"Y":864},{"X":1143,"Y":864},{"X":1378,"Y":864}]},"transform":[{"calculate":"datum.X+33","as":"X2"}],"mark":{"type":"rule","strokeWidth":4,"color":"#E0001B"},"encoding":{"x2":{"field":"X2"}}},
{"data":{"values":[{"X":89,"X2":621,"Y":-153},{"X":808,"X2":1340,"Y":-153}]},"mark":{"type":"rule","strokeWidth":3,"color":"#231815"},"encoding":{"x2":{"field":"X2"}}},
{"data":{"values":[{"t":"A375","X":354,"Y":-216},{"t":"MV3","X":1073,"Y":-216},{"t":"Hoechst","X":114,"Y":-66},{"t":"EdU","X":354,"Y":-66},{"t":"Merge","X":594,"Y":-66},{"t":"Hoechst","X":835,"Y":-66},{"t":"EdU","X":1075,"Y":-66},{"t":"Merge","X":1315,"Y":-66}]},"mark":{"type":"text","fontSize":25},"encoding":{"text":{"field":"t"}}},
{"data":{"values":[{"t":"DMSO","X":-42,"Y":217},{"t":"DHC","X":-42,"Y":679}]},"mark":{"type":"text","fontSize":26,"angle":270},"encoding":{"text":{"field":"t"}}},
{"data":{"values":[{"t":"C","X":-81,"Y":-198}]},"mark":{"type":"text","fontWeight":"bold","fontSize":23,"color":"#000"},"encoding":{"text":{"field":"t"}}}
]},
{"width":166,"height":1,"mark":{"type":"text","text":""}},
{"width":391,"height":283,"data":{"name":"c"},
"encoding":{"x":{"field":"group","type":"nominal","sort":null,"scale":{"paddingInner":0.378,"paddingOuter":0.186},"axis":{"title":null,"labelAngle":0,"labelFontSize":26,"labelPadding":6}},
"xOffset":{"field":"dose","type":"nominal","sort":["DMSO","DHC"],"scale":{"paddingInner":0.324}},
"y":{"field":"value","type":"quantitative","stack":null,"scale":{"domain":[0,60]},"axis":{"values":[0,20,40,60],"title":"Edu positive cells (%)","titleFontSize":26,"titleX":-79,"titleY":141}}},
"layer":[
{"mark":{"type":"rule","strokeWidth":3,"color":"#000"},"encoding":{"y2":{"field":"err"}}},
{"transform":[{"calculate":"datum.err","as":"value"}],"mark":{"type":"tick","orient":"horizontal","size":24,"thickness":3,"color":"#000"}},
{"mark":{"type":"bar","stroke":"#000","strokeWidth":3},"encoding":{"color":{"field":"dose","type":"nominal","scale":{"domain":["DMSO","DHC"],"range":["#0D34A0","#E7186F"]},"legend":{"title":null,"legendX":25,"legendY":-4.5,"columns":2,"symbolType":"M-1,-0.49H1V0.49H-1Z","symbolSize":1369,"labelOffset":19,"labelFontSize":26,"columnPadding":48,"encode":{"symbols":{"update":{"stroke":{"value":"#231815"},"strokeWidth":{"value":3}}}}}}}},
{"transform":[{"calculate":"datum.err","as":"value"}],"mark":{"type":"text","fontSize":24,"yOffset":-13},"encoding":{"text":{"field":"sig"}}}
]}
]},
{"width":1,"height":32,"mark":{"type":"text","text":""}},
{"spacing":0,"bounds":"flush","resolve":{"scale":{"color":"independent","xOffset":"independent"}},"hconcat":[
{"width":163,"height":382,"layer":[
{"data":{"values":[{"x":0.463,"x2":0.463,"y":-0.06,"y2":1},{"x":0.463,"x2":3.54,"y":1,"y2":1}]},"mark":{"type":"rule","strokeWidth":3.5,"color":"#000"},"encoding":{"x":{"field":"x","type":"quantitative","scale":{"domain":[0,1],"nice":false},"axis":null},"x2":{"field":"x2"},"y":{"field":"y","type":"quantitative","scale":{"domain":[0,1],"reverse":true,"nice":false},"axis":null},"y2":{"field":"y2"}}},
{"data":{"values":[{"x":0.463,"y":-0.05}]},"mark":{"type":"point","shape":"triangle-up","filled":true,"size":170,"color":"#000","opacity":1},"encoding":{"x":{"field":"x","type":"quantitative"},"y":{"field":"y","type":"quantitative"}}},
{"data":{"values":[{"x":3.52,"y":1}]},"mark":{"type":"point","shape":"triangle-right","filled":true,"size":170,"color":"#000","opacity":1},"encoding":{"x":{"field":"x","type":"quantitative"},"y":{"field":"y","type":"quantitative"}}},
{"data":{"values":[{"t":"Count","x":0.294,"y":0.442}]},"mark":{"type":"text","angle":270,"fontSize":29},"encoding":{"x":{"field":"x","type":"quantitative"},"y":{"field":"y","type":"quantitative"},"text":{"field":"t"}}},
{"data":{"values":[{"t":"A375","x":0.663,"y":0.191},{"t":"MV3","x":0.663,"y":0.72}]},"mark":{"type":"text","angle":270,"fontSize":27},"encoding":{"x":{"field":"x","type":"quantitative"},"y":{"field":"y","type":"quantitative"},"text":{"field":"t"}}},
{"data":{"values":[{"t":"PI","x":2.166,"y":1.065}]},"mark":{"type":"text","fontSize":29},"encoding":{"x":{"field":"x","type":"quantitative"},"y":{"field":"y","type":"quantitative"},"text":{"field":"t"}}},
{"data":{"values":[{"t":"D","x":0.067,"y":-0.094}]},"mark":{"type":"text","fontWeight":"bold","fontSize":23,"color":"#000"},"encoding":{"x":{"field":"x","type":"quantitative"},"y":{"field":"y","type":"quantitative"},"text":{"field":"t"}}}
]},
{"width":396,"height":355,
"encoding":{"x":{"field":"X","type":"quantitative","scale":{"domain":[0,396]},"axis":null},"y":{"field":"Y","type":"quantitative","scale":{"domain":[0,355],"reverse":true},"axis":null}},
"layer":[
{"data":{"name":"flow"},"transform":[{"calculate":"{a1:[0,170,-11,168,0.06,2.95,-15,1595],a2:[225,171,-11,168,0.04,3.16,-18,1245],b1:[0,170,186,169,-0.01,3.12,-17,1433],b2:[225,171,186,169,0.115,3.17,-10,830]}[datum.p]","as":"P"},{"calculate":"datum.P[0]+(datum.x-datum.P[4])/(datum.P[5]-datum.P[4])*datum.P[1]","as":"X"},{"calculate":"datum.P[2]+datum.P[3]*(1-(datum.y-datum.P[6])/(datum.P[7]-datum.P[6]))","as":"Y"},{"calculate":"datum.P[2]+datum.P[3]*(1-(0-datum.P[6])/(datum.P[7]-datum.P[6]))","as":"Y0"},{"filter":"datum.s=='olive'||datum.s=='green'||datum.s=='cyan'"}],"mark":{"type":"area","interpolate":"monotone","opacity":1},"encoding":{"y2":{"field":"Y0"},"detail":{"field":"p"},"color":{"field":"s","type":"nominal","scale":{"domain":["olive","green","cyan","black","magenta"],"range":["#AFAF00","#00A800","#00FFFF","#000000","#FF00FF"]},"legend":null}}},
{"data":{"name":"flow"},"transform":[{"calculate":"{a1:[0,170,-11,168,0.06,2.95,-15,1595],a2:[225,171,-11,168,0.04,3.16,-18,1245],b1:[0,170,186,169,-0.01,3.12,-17,1433],b2:[225,171,186,169,0.115,3.17,-10,830]}[datum.p]","as":"P"},{"calculate":"datum.P[0]+(datum.x-datum.P[4])/(datum.P[5]-datum.P[4])*datum.P[1]","as":"X"},{"calculate":"datum.P[2]+datum.P[3]*(1-(datum.y-datum.P[6])/(datum.P[7]-datum.P[6]))","as":"Y"},{"filter":"datum.s=='black'"}],"mark":{"type":"line","interpolate":"monotone","strokeWidth":1.5,"color":"#000"},"encoding":{"detail":{"field":"p"}}},
{"data":{"name":"flow"},"transform":[{"calculate":"{a1:[0,170,-11,168,0.06,2.95,-15,1595],a2:[225,171,-11,168,0.04,3.16,-18,1245],b1:[0,170,186,169,-0.01,3.12,-17,1433],b2:[225,171,186,169,0.115,3.17,-10,830]}[datum.p]","as":"P"},{"calculate":"datum.P[0]+(datum.x-datum.P[4])/(datum.P[5]-datum.P[4])*datum.P[1]","as":"X"},{"calculate":"datum.P[2]+datum.P[3]*(1-(datum.y-datum.P[6])/(datum.P[7]-datum.P[6]))","as":"Y"},{"filter":"datum.s=='magenta'"}],"mark":{"type":"line","interpolate":"monotone","strokeWidth":2.5,"color":"#FF00FF"},"encoding":{"detail":{"field":"p"}}},
{"data":{"values":[{"X":0,"X2":170,"Y":-11,"Y2":157},{"X":225,"X2":396,"Y":-11,"Y2":157},{"X":0,"X2":170,"Y":186,"Y2":355},{"X":225,"X2":396,"Y":186,"Y2":355}]},"mark":{"type":"rect","fillOpacity":0,"stroke":"#000","strokeWidth":3},"encoding":{"x2":{"field":"X2"},"y2":{"field":"Y2"}}},
{"data":{"name":"tick_x"},"transform":[{"calculate":"{a1:[0,170,-11,168,0.06,2.95],a2:[225,171,-11,168,0.04,3.16],b1:[0,170,186,169,-0.01,3.12],b2:[225,171,186,169,0.115,3.17]}[datum.p]","as":"P"},{"calculate":"datum.P[0]+(datum.v-datum.P[4])/(datum.P[5]-datum.P[4])*datum.P[1]","as":"X"},{"calculate":"datum.P[2]+datum.P[3]","as":"Y"}],"mark":{"type":"tick","orient":"vertical","size":9,"thickness":2,"color":"#000"}},
{"data":{"name":"tick_x"},"transform":[{"calculate":"{a1:[0,170,-11,168,0.06,2.95],a2:[225,171,-11,168,0.04,3.16],b1:[0,170,186,169,-0.01,3.12],b2:[225,171,186,169,0.115,3.17]}[datum.p]","as":"P"},{"calculate":"datum.P[0]+(datum.v-datum.P[4])/(datum.P[5]-datum.P[4])*datum.P[1]","as":"X"},{"calculate":"datum.P[2]+datum.P[3]+15","as":"Y"}],"mark":{"type":"text","fontSize":9},"encoding":{"text":{"field":"l"}}},
{"data":{"name":"tick_y"},"transform":[{"calculate":"{a1:[0,-11,168,-15,1595],a2:[225,-11,168,-18,1245],b1:[0,186,169,-17,1433],b2:[225,186,169,-10,830]}[datum.p]","as":"P"},{"calculate":"datum.P[0]","as":"X"},{"calculate":"datum.P[1]+datum.P[2]*(1-(datum.v-datum.P[3])/(datum.P[4]-datum.P[3]))","as":"Y"}],"mark":{"type":"tick","orient":"horizontal","size":9,"thickness":2,"color":"#000"}},
{"data":{"name":"tick_y"},"transform":[{"calculate":"{a1:[0,-11,168,-15,1595],a2:[225,-11,168,-18,1245],b1:[0,186,169,-17,1433],b2:[225,186,169,-10,830]}[datum.p]","as":"P"},{"calculate":"datum.P[0]-7","as":"X"},{"calculate":"datum.P[1]+datum.P[2]*(1-(datum.v-datum.P[3])/(datum.P[4]-datum.P[3]))","as":"Y"}],"mark":{"type":"text","fontSize":9,"align":"right"},"encoding":{"text":{"field":"v","type":"quantitative","format":"d"}}},
{"data":{"values":[{"t":"DMSO","X":85,"Y":-31},{"t":"DHC","X":310,"Y":-31}]},"mark":{"type":"text","fontSize":27},"encoding":{"text":{"field":"t"}}}
]},
{"width":204.5,"height":1,"mark":{"type":"text","text":""}},
{"width":387,"height":362,"title":{"text":"A375","offset":-12,"dx":-7},"data":{"name":"d_a"},
"encoding":{"x":{"field":"group","type":"nominal","sort":null,"scale":{"paddingInner":0.293,"paddingOuter":0.202,"align":0.4},"axis":{"title":null,"labelAngle":0,"labelPadding":6}},
"xOffset":{"field":"dose","type":"nominal","sort":["DMSO","DHC"],"scale":{"paddingInner":0.326}},
"y":{"field":"value","type":"quantitative","stack":null,"scale":{"domain":[0,60]},"axis":{"values":[0,20,40,60],"title":"Cell percentage (%)","titleFontSize":26,"titleX":-75,"titleY":180}}},
"layer":[
{"mark":{"type":"rule","strokeWidth":3,"color":"#000"},"encoding":{"y2":{"field":"err"}}},
{"transform":[{"calculate":"datum.err","as":"value"}],"mark":{"type":"tick","orient":"horizontal","size":17,"thickness":3,"color":"#000"}},
{"mark":{"type":"bar","stroke":"#000","strokeWidth":3},"encoding":{"color":{"field":"dose","type":"nominal","scale":{"domain":["DMSO","DHC"],"range":["#0D34A0","#E7186F"]},"legend":{"title":null,"legendX":30,"legendY":11,"columns":2,"symbolType":"M-1,-0.58H1V0.58H-1Z","symbolSize":961,"labelOffset":21,"labelFontSize":26,"columnPadding":48,"encode":{"symbols":{"update":{"stroke":{"value":"#231815"},"strokeWidth":{"value":3}}}}}}}},
{"transform":[{"calculate":"datum.err","as":"value"}],"mark":{"type":"text","fontSize":24,"yOffset":-13},"encoding":{"text":{"field":"sig"}}}
]},
{"width":386,"height":362,"title":{"text":"MV3","offset":1,"dx":15},"data":{"name":"d_m"},
"encoding":{"x":{"field":"group","type":"nominal","sort":null,"scale":{"paddingInner":0.293,"paddingOuter":0.202,"align":0.61},"axis":{"title":null,"labelAngle":0,"labelPadding":6}},
"xOffset":{"field":"dose","type":"nominal","sort":["DMSO","DHC"],"scale":{"paddingInner":0.326}},
"y":{"field":"value","type":"quantitative","stack":null,"scale":{"domain":[0,60]},"axis":null}},
"layer":[
{"mark":{"type":"rule","strokeWidth":3,"color":"#000"},"encoding":{"y2":{"field":"err"}}},
{"transform":[{"calculate":"datum.err","as":"value"}],"mark":{"type":"tick","orient":"horizontal","size":17,"thickness":3,"color":"#000"}},
{"mark":{"type":"bar","stroke":"#000","strokeWidth":3},"encoding":{"color":{"field":"dose","type":"nominal","scale":{"domain":["DMSO","DHC"],"range":["#0D34A0","#E7186F"]},"legend":null}}},
{"transform":[{"calculate":"datum.err","as":"value"}],"mark":{"type":"text","fontSize":24,"yOffset":-13},"encoding":{"text":{"field":"sig"}}}
]}
]},
{"width":1,"height":20,"mark":{"type":"text","text":""}},
{"spacing":0,"bounds":"flush","resolve":{"scale":{"color":"independent","xOffset":"independent"}},"hconcat":[
{"width":156,"height":1,"mark":{"type":"text","text":""}},
{"width":703,"height":409,
"encoding":{"x":{"field":"X","type":"quantitative","scale":{"domain":[0,703]},"axis":null},"y":{"field":"Y","type":"quantitative","scale":{"domain":[0,409],"reverse":true},"axis":null}},
"layer":[
{"data":{"values":[{"X":0,"X2":346,"Y":92,"Y2":155},{"X":356,"X2":703,"Y":92,"Y2":155},{"X":0,"X2":346,"Y":163,"Y2":226},{"X":356,"X2":703,"Y":163,"Y2":226},{"X":0,"X2":346,"Y":236,"Y2":297},{"X":356,"X2":703,"Y":236,"Y2":297},{"X":0,"X2":346,"Y":306,"Y2":369},{"X":356,"X2":703,"Y":306,"Y2":369}]},"mark":{"type":"rect","color":"#e9e9e9"},"encoding":{"x2":{"field":"X2"},"y2":{"field":"Y2"}}},
{"data":{"name":"blot_e"},"transform":[{"calculate":"(datum.line=='MV3'?356:0)+43+86*indexof(['0','50','100','200'],datum.lane)","as":"X"},{"calculate":"indexof(['cyclin D1','c-Myc','cyclin A2','α-Tubulin'],datum.protein)","as":"ri"},{"calculate":"[92,163,236,306][datum.ri]+datum.pos*[63,63,61,63][datum.ri]","as":"Y"}],"mark":{"type":"rect","width":84,"height":44,"color":{"gradient":"radial","r2":0.62,"stops":[{"offset":0,"color":"rgba(0,0,0,0.22)"},{"offset":1,"color":"rgba(0,0,0,0)"}]}},"encoding":{"opacity":{"field":"dark","type":"quantitative","scale":{"domain":[0,1],"range":[0,1]},"legend":null}}},
{"data":{"name":"blot_e"},"transform":[{"calculate":"(datum.line=='MV3'?356:0)+43+86*indexof(['0','50','100','200'],datum.lane)","as":"X"},{"calculate":"indexof(['cyclin D1','c-Myc','cyclin A2','α-Tubulin'],datum.protein)","as":"ri"},{"calculate":"[92,163,236,306][datum.ri]+datum.pos*[63,63,61,63][datum.ri]","as":"Y"}],"mark":{"type":"rect","width":76,"height":22,"color":{"gradient":"radial","r2":0.6,"stops":[{"offset":0,"color":"#000"},{"offset":0.45,"color":"#000"},{"offset":1,"color":"rgba(0,0,0,0)"}]}},"encoding":{"opacity":{"field":"dark","type":"quantitative","scale":{"domain":[0,1],"range":[0,1]},"legend":null}}},
{"data":{"values":[{"X":0,"X2":346,"Y":92,"Y2":155},{"X":356,"X2":703,"Y":92,"Y2":155},{"X":0,"X2":346,"Y":163,"Y2":226},{"X":356,"X2":703,"Y":163,"Y2":226},{"X":0,"X2":346,"Y":236,"Y2":297},{"X":356,"X2":703,"Y":236,"Y2":297},{"X":0,"X2":346,"Y":306,"Y2":369},{"X":356,"X2":703,"Y":306,"Y2":369}]},"mark":{"type":"rect","fillOpacity":0,"stroke":"#231815","strokeWidth":3},"encoding":{"x2":{"field":"X2"},"y2":{"field":"Y2"}}},
{"data":{"values":[{"X":43,"X2":303,"Y":46},{"X":400,"X2":659,"Y":46},{"X":252,"X2":450,"Y":378}]},"mark":{"type":"rule","strokeWidth":3,"color":"#231815"},"encoding":{"x2":{"field":"X2"}}},
{"data":{"values":[{"t":"A375","X":173,"Y":26},{"t":"MV3","X":530,"Y":26},{"t":"0","X":44,"Y":71},{"t":"50","X":130,"Y":71},{"t":"100","X":209,"Y":71},{"t":"200","X":300,"Y":71},{"t":"0","X":400,"Y":71},{"t":"50","X":489,"Y":71},{"t":"100","X":570,"Y":71},{"t":"200","X":658,"Y":71},{"t":"DHC(µM)-48h","X":351,"Y":404}]},"mark":{"type":"text","fontSize":25},"encoding":{"text":{"field":"t"}}},
{"data":{"values":[{"t":"cyclin D1","X":-15,"Y":122},{"t":"c-Myc","X":-12,"Y":194},{"t":"cyclin A2","X":-15,"Y":266},{"t":"α-Tubulin","X":-13,"Y":336}]},"mark":{"type":"text","fontSize":25,"align":"right"},"encoding":{"text":{"field":"t"}}},
{"data":{"values":[{"t":"E","X":-147,"Y":12},{"t":"G","X":765,"Y":12}]},"mark":{"type":"text","fontWeight":"bold","fontSize":23,"color":"#000"},"encoding":{"text":{"field":"t"}}}
]},
{"width":191,"height":1,"mark":{"type":"text","text":""}},
{"width":486,"height":345,
"encoding":{"x":{"field":"group","type":"nominal","sort":null,"scale":{"paddingInner":0.262,"paddingOuter":0.0775,"align":0.17},"axis":{"title":null,"labelAngle":0,"labelFontSize":27,"labelPadding":6}},
"xOffset":{"field":"dose","type":"nominal","sort":["0","50","100","200"],"scale":{"paddingInner":0.303}},
"y":{"field":"Y","type":"quantitative","scale":{"domain":[0,3.222]},"axis":{"values":[0,0.5,1,1.5,1.722,2.222,2.722,3.222],"labelExpr":"format(datum.value>1.6?datum.value-1.722:datum.value,'.1f')","title":"Relative levels of mRNA","titleFontSize":27,"titleX":-85,"titleY":171}}},
"layer":[
{"data":{"name":"g_a"},"transform":[{"calculate":"datum.value+1.722","as":"Y"},{"calculate":"datum.err+1.722","as":"E"}],"mark":{"type":"rule","strokeWidth":3,"color":"#000"},"encoding":{"y2":{"field":"E"}}},
{"data":{"name":"g_a"},"transform":[{"calculate":"datum.err+1.722","as":"Y"}],"mark":{"type":"tick","orient":"horizontal","size":12,"thickness":3,"color":"#000"}},
{"data":{"name":"g_a"},"transform":[{"calculate":"datum.value+1.722","as":"Y"},{"calculate":"1.722","as":"Y0"}],"mark":{"type":"bar","stroke":"#000","strokeWidth":3},"encoding":{"y2":{"field":"Y0"},"color":{"field":"dose","type":"nominal","scale":{"domain":["0","50","100","200"],"range":["#0D34A0","#009A3C","#E7186F","#7F2F8D"]},"legend":{"title":"(µM)","titleOrient":"right","titleFontSize":25,"titlePadding":30,"legendX":-1,"legendY":399,"columns":4,"symbolType":"M-1,-0.72H1V0.72H-1Z","symbolSize":625,"labelOffset":9,"labelFontSize":26,"columnPadding":30,"encode":{"symbols":{"update":{"stroke":{"value":"#231815"},"strokeWidth":{"value":3}}}}}}}},
{"data":{"name":"g_a"},"transform":[{"calculate":"datum.err+1.722","as":"Y"},{"filter":"datum.sig!='ns'"}],"mark":{"type":"text","fontSize":21,"angle":90,"align":"right","dx":-6,"dy":5},"encoding":{"text":{"field":"sig"}}},
{"data":{"name":"g_a"},"transform":[{"calculate":"datum.err+1.722","as":"Y"},{"filter":"datum.sig=='ns'"}],"mark":{"type":"text","fontSize":25,"yOffset":-17},"encoding":{"text":{"field":"sig"}}},
{"data":{"name":"g_m"},"transform":[{"calculate":"datum.value","as":"Y"}],"mark":{"type":"rule","strokeWidth":3,"color":"#000"},"encoding":{"y2":{"field":"err"}}},
{"data":{"name":"g_m"},"transform":[{"calculate":"datum.err","as":"Y"}],"mark":{"type":"tick","orient":"horizontal","size":12,"thickness":3,"color":"#000"}},
{"data":{"name":"g_m"},"transform":[{"calculate":"datum.value","as":"Y"},{"calculate":"0","as":"Y0"}],"mark":{"type":"bar","stroke":"#000","strokeWidth":3},"encoding":{"y2":{"field":"Y0"},"color":{"field":"dose","type":"nominal"}}},
{"data":{"name":"g_m"},"transform":[{"calculate":"datum.err","as":"Y"}],"mark":{"type":"text","fontSize":21,"angle":90,"align":"right","dx":-6,"dy":5},"encoding":{"text":{"field":"sig"}}},
{"data":{"values":[{"Y":1.722}]},"mark":{"type":"rule","strokeWidth":3,"color":"#000"},"encoding":{"x":{"value":0},"x2":{"value":486},"xOffset":null}},
{"data":{"values":[{"Y":1.57,"b":1.645},{"Y":1.53,"b":1.605}]},"mark":{"type":"rule","strokeWidth":3,"color":"#000"},"encoding":{"x":{"value":-11},"x2":{"value":9},"xOffset":null,"y2":{"field":"b"}}},
{"data":{"values":[{"group":"c-Myc","Y":3.226,"t":"A375"},{"group":"c-Myc","Y":1.475,"t":"MV3"}]},"mark":{"type":"text","fontSize":25,"dx":4},"encoding":{"xOffset":null,"text":{"field":"t"}}}
]}
]},
{"width":1,"height":40,"mark":{"type":"text","text":""}},
{"spacing":0,"bounds":"flush","resolve":{"scale":{"color":"independent","xOffset":"independent"}},"hconcat":[
{"width":156,"height":1,"mark":{"type":"text","text":""}},
{"width":703,"height":414,
"encoding":{"x":{"field":"X","type":"quantitative","scale":{"domain":[0,703]},"axis":null},"y":{"field":"Y","type":"quantitative","scale":{"domain":[0,414],"reverse":true},"axis":null}},
"layer":[
{"data":{"values":[{"X":0,"X2":346,"Y":91,"Y2":154},{"X":356,"X2":703,"Y":91,"Y2":154},{"X":0,"X2":346,"Y":163,"Y2":225},{"X":356,"X2":703,"Y":163,"Y2":225},{"X":0,"X2":346,"Y":234,"Y2":301},{"X":356,"X2":703,"Y":234,"Y2":301},{"X":0,"X2":346,"Y":310,"Y2":373},{"X":356,"X2":703,"Y":310,"Y2":373}]},"mark":{"type":"rect","color":"#e9e9e9"},"encoding":{"x2":{"field":"X2"},"y2":{"field":"Y2"}}},
{"data":{"name":"blot_f"},"transform":[{"calculate":"(datum.line=='MV3'?356:0)+43+86*indexof(['0','12','24','48'],datum.lane)","as":"X"},{"calculate":"indexof(['cyclin D1','c-Myc','cyclin A2','α-Tubulin'],datum.protein)","as":"ri"},{"calculate":"[91,163,234,310][datum.ri]+datum.pos*[63,62,67,63][datum.ri]","as":"Y"}],"mark":{"type":"rect","width":84,"height":44,"color":{"gradient":"radial","r2":0.62,"stops":[{"offset":0,"color":"rgba(0,0,0,0.22)"},{"offset":1,"color":"rgba(0,0,0,0)"}]}},"encoding":{"opacity":{"field":"dark","type":"quantitative","scale":{"domain":[0,1],"range":[0,1]},"legend":null}}},
{"data":{"name":"blot_f"},"transform":[{"calculate":"(datum.line=='MV3'?356:0)+43+86*indexof(['0','12','24','48'],datum.lane)","as":"X"},{"calculate":"indexof(['cyclin D1','c-Myc','cyclin A2','α-Tubulin'],datum.protein)","as":"ri"},{"calculate":"[91,163,234,310][datum.ri]+datum.pos*[63,62,67,63][datum.ri]","as":"Y"}],"mark":{"type":"rect","width":76,"height":22,"color":{"gradient":"radial","r2":0.6,"stops":[{"offset":0,"color":"#000"},{"offset":0.45,"color":"#000"},{"offset":1,"color":"rgba(0,0,0,0)"}]}},"encoding":{"opacity":{"field":"dark","type":"quantitative","scale":{"domain":[0,1],"range":[0,1]},"legend":null}}},
{"data":{"values":[{"X":0,"X2":346,"Y":91,"Y2":154},{"X":356,"X2":703,"Y":91,"Y2":154},{"X":0,"X2":346,"Y":163,"Y2":225},{"X":356,"X2":703,"Y":163,"Y2":225},{"X":0,"X2":346,"Y":234,"Y2":301},{"X":356,"X2":703,"Y":234,"Y2":301},{"X":0,"X2":346,"Y":310,"Y2":373},{"X":356,"X2":703,"Y":310,"Y2":373}]},"mark":{"type":"rect","fillOpacity":0,"stroke":"#231815","strokeWidth":3},"encoding":{"x2":{"field":"X2"},"y2":{"field":"Y2"}}},
{"data":{"values":[{"X":43,"X2":303,"Y":39},{"X":400,"X2":659,"Y":39},{"X":244,"X2":458,"Y":382}]},"mark":{"type":"rule","strokeWidth":3,"color":"#231815"},"encoding":{"x2":{"field":"X2"}}},
{"data":{"values":[{"t":"A375","X":173,"Y":20},{"t":"MV3","X":530,"Y":20},{"t":"0","X":41,"Y":68},{"t":"12","X":127,"Y":68},{"t":"24","X":213,"Y":68},{"t":"48","X":295,"Y":68},{"t":"0","X":397,"Y":68},{"t":"12","X":483,"Y":68},{"t":"24","X":572,"Y":68},{"t":"48","X":655,"Y":68},{"t":"DHC(h)-100µM","X":351,"Y":408}]},"mark":{"type":"text","fontSize":25},"encoding":{"text":{"field":"t"}}},
{"data":{"values":[{"t":"cyclin D1","X":-15,"Y":121},{"t":"c-Myc","X":-12,"Y":194},{"t":"cyclin A2","X":-15,"Y":266},{"t":"α-Tubulin","X":-13,"Y":339}]},"mark":{"type":"text","fontSize":25,"align":"right"},"encoding":{"text":{"field":"t"}}},
{"data":{"values":[{"t":"F","X":-148,"Y":18},{"t":"H","X":764,"Y":18}]},"mark":{"type":"text","fontWeight":"bold","fontSize":23,"color":"#000"},"encoding":{"text":{"field":"t"}}}
]},
{"width":191,"height":1,"mark":{"type":"text","text":""}},
{"width":486,"height":346,
"encoding":{"x":{"field":"group","type":"nominal","sort":null,"scale":{"paddingInner":0.262,"paddingOuter":0.0775,"align":0.17},"axis":{"title":null,"labelAngle":0,"labelFontSize":27,"labelPadding":6}},
"xOffset":{"field":"dose","type":"nominal","sort":["0","12","24","48"],"scale":{"paddingInner":0.303}},
"y":{"field":"Y","type":"quantitative","scale":{"domain":[0,3.233]},"axis":{"values":[0,0.5,1,1.5,1.733,2.233,2.733,3.233],"labelExpr":"format(datum.value>1.6?datum.value-1.733:datum.value,'.1f')","title":"Relative levels of mRNA","titleFontSize":27,"titleX":-85,"titleY":173}}},
"layer":[
{"data":{"name":"h_a"},"transform":[{"calculate":"datum.value+1.733","as":"Y"},{"calculate":"datum.err+1.733","as":"E"}],"mark":{"type":"rule","strokeWidth":3,"color":"#000"},"encoding":{"y2":{"field":"E"}}},
{"data":{"name":"h_a"},"transform":[{"calculate":"datum.err+1.733","as":"Y"}],"mark":{"type":"tick","orient":"horizontal","size":12,"thickness":3,"color":"#000"}},
{"data":{"name":"h_a"},"transform":[{"calculate":"datum.value+1.733","as":"Y"},{"calculate":"1.733","as":"Y0"}],"mark":{"type":"bar","stroke":"#000","strokeWidth":3},"encoding":{"y2":{"field":"Y0"},"color":{"field":"dose","type":"nominal","scale":{"domain":["0","12","24","48"],"range":["#0D34A0","#009A3C","#E7186F","#7F2F8D"]},"legend":{"title":"(h)","titleOrient":"right","titleFontSize":25,"titlePadding":30,"legendX":0,"legendY":401,"columns":4,"symbolType":"M-1,-0.72H1V0.72H-1Z","symbolSize":625,"labelOffset":9,"labelFontSize":26,"columnPadding":36,"encode":{"symbols":{"update":{"stroke":{"value":"#231815"},"strokeWidth":{"value":3}}}}}}}},
{"data":{"name":"h_a"},"transform":[{"calculate":"datum.err+1.733","as":"Y"},{"filter":"datum.sig!='ns'"}],"mark":{"type":"text","fontSize":21,"angle":90,"align":"right","dx":-6,"dy":5},"encoding":{"text":{"field":"sig"}}},
{"data":{"name":"h_a"},"transform":[{"calculate":"datum.err+1.733","as":"Y"},{"filter":"datum.sig=='ns'"}],"mark":{"type":"text","fontSize":25,"yOffset":-17},"encoding":{"text":{"field":"sig"}}},
{"data":{"name":"h_m"},"transform":[{"calculate":"datum.value","as":"Y"}],"mark":{"type":"rule","strokeWidth":3,"color":"#000"},"encoding":{"y2":{"field":"err"}}},
{"data":{"name":"h_m"},"transform":[{"calculate":"datum.err","as":"Y"}],"mark":{"type":"tick","orient":"horizontal","size":12,"thickness":3,"color":"#000"}},
{"data":{"name":"h_m"},"transform":[{"calculate":"datum.value","as":"Y"},{"calculate":"0","as":"Y0"}],"mark":{"type":"bar","stroke":"#000","strokeWidth":3},"encoding":{"y2":{"field":"Y0"},"color":{"field":"dose","type":"nominal"}}},
{"data":{"name":"h_m"},"transform":[{"calculate":"datum.err","as":"Y"},{"filter":"datum.sig!='ns'"}],"mark":{"type":"text","fontSize":21,"angle":90,"align":"right","dx":-6,"dy":5},"encoding":{"text":{"field":"sig"}}},
{"data":{"name":"h_m"},"transform":[{"calculate":"datum.err","as":"Y"},{"filter":"datum.sig=='ns'"}],"mark":{"type":"text","fontSize":25,"yOffset":-17},"encoding":{"text":{"field":"sig"}}},
{"data":{"values":[{"Y":1.733}]},"mark":{"type":"rule","strokeWidth":3,"color":"#000"},"encoding":{"x":{"value":0},"x2":{"value":486},"xOffset":null}},
{"data":{"values":[{"Y":1.56,"b":1.635},{"Y":1.52,"b":1.595}]},"mark":{"type":"rule","strokeWidth":3,"color":"#000"},"encoding":{"x":{"value":-11},"x2":{"value":9},"xOffset":null,"y2":{"field":"b"}}},
{"data":{"values":[{"group":"c-Myc","Y":3.226,"t":"A375"},{"group":"c-Myc","Y":1.467,"t":"MV3"}]},"mark":{"type":"text","fontSize":25,"dx":3},"encoding":{"xOffset":null,"text":{"field":"t"}}}
]}
]}
]}
